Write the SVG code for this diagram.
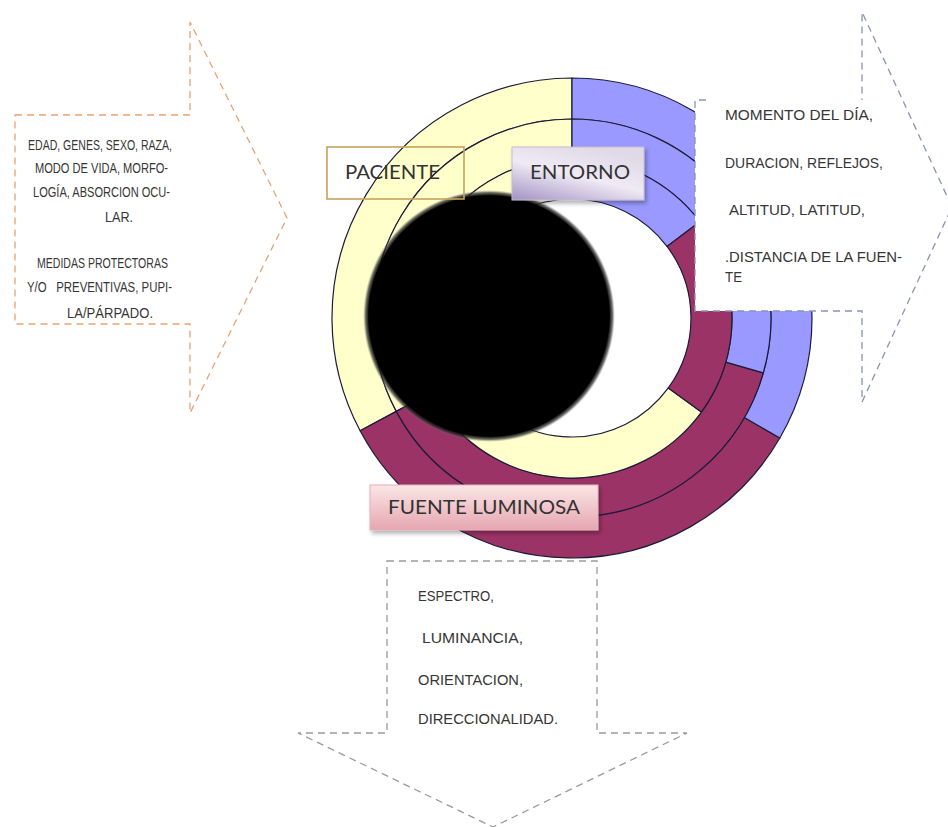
<svg xmlns="http://www.w3.org/2000/svg" width="948" height="827" viewBox="0 0 948 827">
<defs>
<style>
.seg{stroke:#1c1c3a;stroke-width:1.2;stroke-linejoin:round}
.y{fill:#FFFFCC}
.b{fill:#9999FF}
.p{fill:#9C3366}
.lab{font-family:Lato,"Liberation Sans",sans-serif;font-size:19px;fill:#333}
.txt{font-family:"Liberation Sans",Arial,sans-serif;font-size:14px;fill:#363636}
.arr{fill:#fff;stroke-width:1.3;stroke-dasharray:7 5}
</style>
<radialGradient id="hole" cx="0.5" cy="0.5" r="0.5">
<stop offset="0" stop-color="#000"/>
<stop offset="0.955" stop-color="#000"/>
<stop offset="0.98" stop-color="#333" stop-opacity="0.7"/>
<stop offset="1" stop-color="#888" stop-opacity="0"/>
</radialGradient>
<linearGradient id="gEnt" x1="0" y1="1" x2="0.6" y2="0">
<stop offset="0" stop-color="#a292c4"/>
<stop offset="0.55" stop-color="#efeaf4"/>
<stop offset="1" stop-color="#e0dae8"/>
</linearGradient>
<linearGradient id="gFue" x1="0" y1="0" x2="0" y2="1">
<stop offset="0" stop-color="#fbe6e6"/>
<stop offset="1" stop-color="#e6a6b0"/>
</linearGradient>
<filter id="sh" x="-10%" y="-20%" width="130%" height="150%">
<feDropShadow dx="2" dy="3" stdDeviation="2" flood-color="#000" flood-opacity="0.3"/>
</filter>
</defs>
<rect width="948" height="827" fill="#fff"/>

<g id="ring">
<!-- band 1 -->
<path class="seg y" d="M572,78 A240,240 0 0 0 360.1,430.7 L396.3,411.4 A199,199 0 0 1 572,119 Z"/>
<path class="seg p" d="M360.1,430.7 A240,240 0 0 0 779.85,438 L744.34,417.5 A199,199 0 0 1 396.3,411.4 Z"/>
<path class="seg b" d="M779.85,438 A240,240 0 0 0 572,78 L572,119 A199,199 0 0 1 744.34,417.5 Z"/>
<!-- band 2 -->
<path class="seg y" d="M572,119 A199,199 0 0 0 396.3,411.4 L430.7,393.1 A160,160 0 0 1 572,158 Z"/>
<path class="seg p" d="M396.3,411.4 A199,199 0 0 0 763.3,372.8 L725.8,362.1 A160,160 0 0 1 430.7,393.1 Z"/>
<path class="seg b" d="M763.3,372.8 A199,199 0 0 0 572,119 L572,158 A160,160 0 0 1 725.8,362.1 Z"/>
<!-- band 3 -->
<path class="seg b" d="M699.8,221.7 A160,160 0 0 0 572,158 L572,199 A119,119 0 0 1 667,246.4 Z"/>
<path class="seg y" d="M572,158 A160,160 0 1 0 701.4,412 L668.3,387.9 A119,119 0 1 1 572,199 Z"/>
<path class="seg p" d="M701.4,412 A160,160 0 0 0 699.8,221.7 L667,246.4 A119,119 0 0 1 668.3,387.9 Z"/>
</g>

<g id="hole-circle">
<circle cx="489" cy="316" r="126" fill="url(#hole)"/>
</g>

<g id="connectors"></g>

<g id="paciente">
<rect x="327" y="147" width="137" height="52" fill="none" stroke="#C9A35A" stroke-width="1.6"/>
<text class="lab" x="345" y="179" textLength="95" lengthAdjust="spacingAndGlyphs">PACIENTE</text>
</g>

<g id="entorno">
<rect x="512" y="147" width="132" height="53" fill="url(#gEnt)" stroke="#c4bccf" stroke-width="1" filter="url(#sh)"/>
<text class="lab" x="530" y="179" textLength="100" lengthAdjust="spacingAndGlyphs">ENTORNO</text>
</g>

<g id="fuente">
<rect x="370" y="485" width="228" height="45" fill="url(#gFue)" stroke="#e2b4bc" stroke-width="1" filter="url(#sh)"/>
<text class="lab" x="388" y="514" textLength="192" lengthAdjust="spacingAndGlyphs">FUENTE LUMINOSA</text>
</g>

<g id="arrow-paciente">
<polygon class="arr" stroke="#E6A272" points="15,115 190,115 190,22 287,218 190,413 190,324 15,324"/>
<text class="txt" x="28" y="150" textLength="144" lengthAdjust="spacingAndGlyphs">EDAD, GENES, SEXO, RAZA,</text>
<text class="txt" x="35" y="173" textLength="133" lengthAdjust="spacingAndGlyphs">MODO DE VIDA, MORFO-</text>
<text class="txt" x="33" y="197" textLength="137" lengthAdjust="spacingAndGlyphs">LOGÍA, ABSORCION OCU-</text>
<text class="txt" x="105" y="222" textLength="28" lengthAdjust="spacingAndGlyphs">LAR.</text>
<text class="txt" x="37" y="268" textLength="131" lengthAdjust="spacingAndGlyphs">MEDIDAS PROTECTORAS</text>
<text class="txt" x="27" y="292" textLength="145" lengthAdjust="spacingAndGlyphs" xml:space="preserve">Y/O   PREVENTIVAS, PUPI-</text>
<text class="txt" x="67" y="318" textLength="86" lengthAdjust="spacingAndGlyphs">LA/PÁRPADO.</text>
</g>

<g id="arrow-entorno">
<polygon points="695,100 862,100 862,12 952,207 862,402 862,311 695,311" fill="#fff"/>
<path class="arr" fill="none" stroke="#8a94b2" d="M706,100 L695,100 L695,311 L862,311 L862,402 L952,207 L862,12 L862,100"/>
<text class="txt" x="725" y="120" textLength="148" lengthAdjust="spacingAndGlyphs">MOMENTO DEL DÍA,</text>
<text class="txt" x="725" y="168" textLength="158" lengthAdjust="spacingAndGlyphs">DURACION, REFLEJOS,</text>
<text class="txt" x="729" y="215" textLength="136" lengthAdjust="spacingAndGlyphs">ALTITUD, LATITUD,</text>
<text class="txt" x="725" y="262" textLength="177" lengthAdjust="spacingAndGlyphs">.DISTANCIA DE LA FUEN-</text>
<text class="txt" x="725" y="282" textLength="17" lengthAdjust="spacingAndGlyphs">TE</text>
</g>

<g id="arrow-fuente">
<polygon class="arr" stroke="#9a9a9a" points="387,561 597,561 597,733 687,733 493,827 298,733 387,733"/>
<text class="txt" x="418" y="601" textLength="76" lengthAdjust="spacingAndGlyphs">ESPECTRO,</text>
<text class="txt" x="422" y="643" textLength="101" lengthAdjust="spacingAndGlyphs">LUMINANCIA,</text>
<text class="txt" x="418" y="685" textLength="105" lengthAdjust="spacingAndGlyphs">ORIENTACION,</text>
<text class="txt" x="418" y="724" textLength="140" lengthAdjust="spacingAndGlyphs">DIRECCIONALIDAD.</text>
</g>
</svg>
